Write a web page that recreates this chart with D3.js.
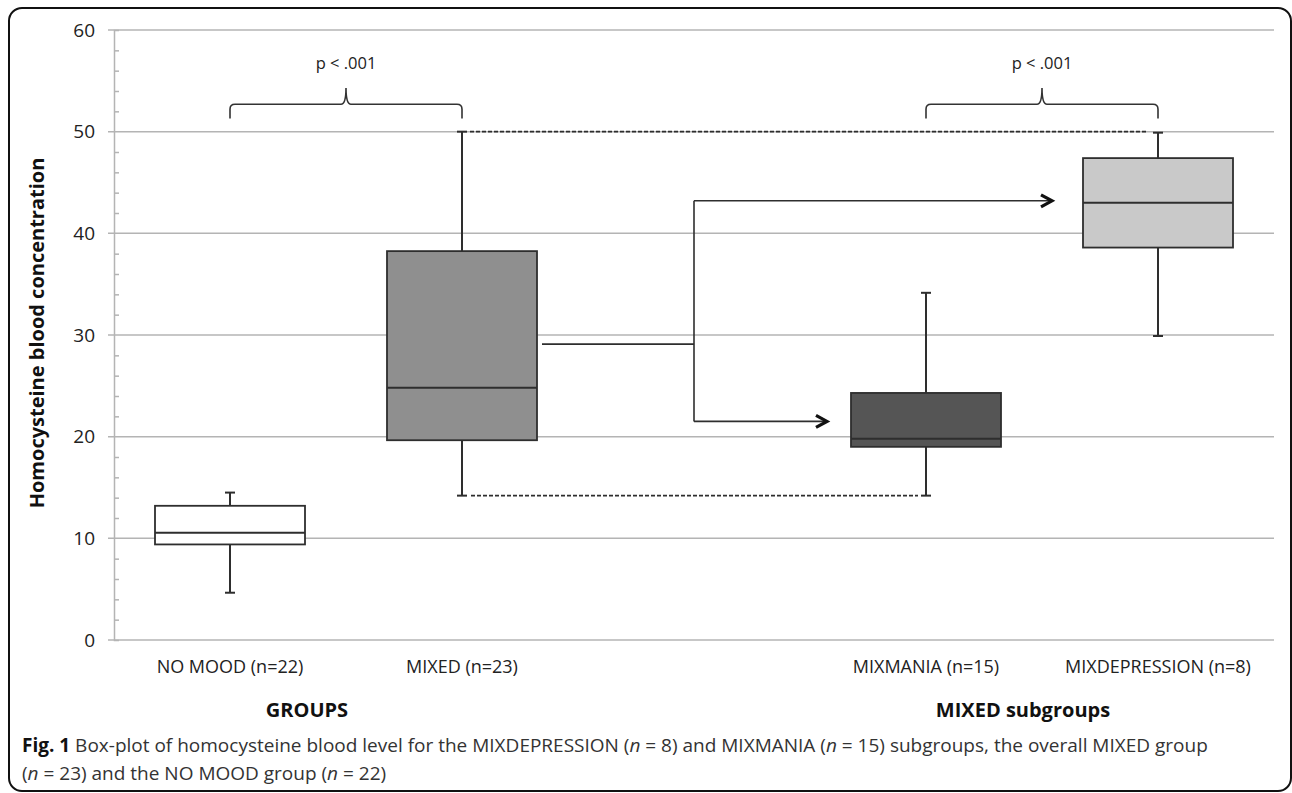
<!DOCTYPE html>
<html>
<head>
<meta charset="utf-8">
<script src="https://cdn.jsdelivr.net/npm/d3@7"></script>
<style>
  body { margin: 0; background: #fff; }
  text { font-family: "Open Sans", sans-serif; }
</style>
</head>
<body>
<div id="chart"></div>
<script>
(() => {
"use strict";

const WIDTH = 1292, HEIGHT = 793;

// slots on the x axis, the blank one keeps the gap between groups and subgroups
const categories = ["NO MOOD (n=22)", "MIXED (n=23)", "", "MIXMANIA (n=15)", "MIXDEPRESSION (n=8)"];
const boxCats = ["NO MOOD (n=22)", "MIXED (n=23)", "MIXMANIA (n=15)", "MIXDEPRESSION (n=8)"];
const lowWhisker = [4.65, 14.2, 14.2, 29.9];
const q1 = [9.4, 19.65, 19.0, 38.6];
const median = [10.55, 24.8, 19.8, 43.0];
const q3 = [13.2, 38.25, 24.3, 47.4];
const highWhisker = [14.5, 50.0, 34.15, 49.9];
const fills = ["#ffffff", "#8f8f8f", "#555555", "#c9c9c9"];

const yTicks = [0, 10, 20, 30, 40, 50, 60];
const groupLabels = ["GROUPS", "MIXED subgroups"];

// annotation levels (data units)
const splitLevel = 29.1;
const arrowLevels = [43.2, 21.5];
const braceLevels = { end: 51.3, bar: 52.7, peak: 54.3, text: 56.7 };

let svg = d3.select("#chart").append("svg")
  .attr("width", WIDTH)
  .attr("height", HEIGHT);

// frame
svg.append("rect")
  .attr("x", 9).attr("y", 8)
  .attr("width", 1282).attr("height", 783)
  .attr("rx", 13)
  .attr("fill", "none")
  .attr("stroke", "#111")
  .attr("stroke-width", 2);

let x = d3.scaleBand()
  .domain(categories)
  .range([114, 1274]);
let y = d3.scaleLinear()
  .domain([0, 60])
  .range([640, 30]);
let cx = c => x(c) + x.bandwidth() / 2;

// grid lines
svg.append("g")
  .selectAll("line")
  .data(yTicks)
  .join("line")
  .attr("x1", 108).attr("x2", 1274)
  .attr("y1", d => y(d)).attr("y2", d => y(d))
  .attr("stroke", "#b4b4b4")
  .attr("stroke-width", 1.5);

// y axis with minor ticks
let yAxis = d3.axisRight(y)
  .tickValues(d3.range(0, 61, 2).filter(d => d % 10 !== 0))
  .tickSize(5)
  .tickFormat("");
let axG = svg.append("g")
  .attr("transform", "translate(114,0)")
  .call(yAxis);
axG.select(".domain").attr("stroke", "#b4b4b4").attr("stroke-width", 1.5);
axG.selectAll(".tick line").attr("stroke", "#b4b4b4").attr("stroke-width", 1.5);

svg.append("g")
  .selectAll("text")
  .data(yTicks)
  .join("text")
  .attr("x", 95)
  .attr("y", d => y(d))
  .attr("dy", "0.35em")
  .attr("text-anchor", "end")
  .attr("font-size", 19)
  .attr("fill", "#222")
  .text(d => d);

svg.append("text")
  .attr("transform", `translate(44,333) rotate(-90)`)
  .attr("text-anchor", "middle")
  .attr("font-size", 20)
  .attr("font-weight", "bold")
  .attr("fill", "#111")
  .text("Homocysteine blood concentration");

// category labels
svg.append("g")
  .selectAll("text")
  .data(categories.filter(c => c !== ""))
  .join("text")
  .attr("x", d => cx(d))
  .attr("y", 673)
  .attr("text-anchor", "middle")
  .attr("font-size", 18)
  .attr("fill", "#222")
  .text(d => d);

svg.append("g")
  .selectAll("text")
  .data(groupLabels)
  .join("text")
  .attr("x", (d, i) => i === 0 ? 307 : 1023)
  .attr("y", 717)
  .attr("text-anchor", "middle")
  .attr("font-size", 20)
  .attr("font-weight", "bold")
  .attr("fill", "#111")
  .text(d => d);

// dashed reference lines
const ink = "#2e2e2e";
let dashed = [
  { v: highWhisker[1], from: cx(boxCats[1]) + 8, to: cx(boxCats[3]) - 12 },
  { v: lowWhisker[1], from: cx(boxCats[1]) + 9, to: cx(boxCats[2]) - 8 }
];
svg.append("g")
  .selectAll("line")
  .data(dashed)
  .join("line")
  .attr("x1", d => d.from).attr("x2", d => d.to)
  .attr("y1", d => y(d.v)).attr("y2", d => y(d.v))
  .attr("stroke", ink)
  .attr("stroke-width", 1.6)
  .attr("stroke-dasharray", "4,2");

// boxes
const boxW = 150, capW = 10;
let boxes = svg.append("g")
  .selectAll("g")
  .data(boxCats)
  .join("g");

boxes.append("line")
  .attr("x1", d => cx(d)).attr("x2", d => cx(d))
  .attr("y1", (d, i) => y(highWhisker[i])).attr("y2", (d, i) => y(lowWhisker[i]))
  .attr("stroke", ink).attr("stroke-width", 2);
boxes.selectAll(".cap")
  .data((d, i) => [{ c: d, v: highWhisker[i] }, { c: d, v: lowWhisker[i] }])
  .join("line")
  .attr("class", "cap")
  .attr("x1", d => cx(d.c) - capW / 2).attr("x2", d => cx(d.c) + capW / 2)
  .attr("y1", d => y(d.v)).attr("y2", d => y(d.v))
  .attr("stroke", ink).attr("stroke-width", 2);
boxes.append("rect")
  .attr("x", d => cx(d) - boxW / 2)
  .attr("y", (d, i) => y(q3[i]))
  .attr("width", boxW)
  .attr("height", (d, i) => y(q1[i]) - y(q3[i]))
  .attr("fill", (d, i) => fills[i])
  .attr("stroke", ink).attr("stroke-width", 1.8);
boxes.append("line")
  .attr("x1", d => cx(d) - boxW / 2).attr("x2", d => cx(d) + boxW / 2)
  .attr("y1", (d, i) => y(median[i])).attr("y2", (d, i) => y(median[i]))
  .attr("stroke", ink).attr("stroke-width", 2);

// split connector from MIXED to the two subgroups
let midX = cx("");
let conn = svg.append("g")
  .attr("fill", "none")
  .attr("stroke", ink)
  .attr("stroke-width", 1.6);
conn.append("path")
  .attr("d", d3.line()([
    [cx(boxCats[1]) + boxW / 2 + 5, y(splitLevel)],
    [midX, y(splitLevel)]
  ]));
conn.append("path")
  .attr("d", d3.line()([[midX, y(arrowLevels[0])], [midX, y(arrowLevels[1])]]));

let arrowEnds = [cx(boxCats[3]) - boxW / 2 - 31, cx(boxCats[2]) - boxW / 2 - 24];
arrowLevels.forEach((v, i) => {
  let ex = arrowEnds[i], ey = y(v);
  conn.append("path").attr("d", d3.line()([[midX, ey], [ex, ey]]));
  conn.append("path")
    .attr("stroke", "#111")
    .attr("stroke-width", 3.2)
    .attr("stroke-linejoin", "miter")
    .attr("d", d3.line()([[ex - 11, ey - 6], [ex, ey], [ex - 11, ey + 6]]));
});

// significance braces
let brace = (x1, x2) => {
  let m = (x1 + x2) / 2, r = 5;
  let yb = y(braceLevels.bar), ye = y(braceLevels.end), yp = y(braceLevels.peak);
  let p = d3.path();
  p.moveTo(x1, ye);
  p.lineTo(x1, yb + r);
  p.quadraticCurveTo(x1, yb, x1 + r, yb);
  p.lineTo(m - r, yb);
  p.quadraticCurveTo(m, yb, m, yp);
  p.quadraticCurveTo(m, yb, m + r, yb);
  p.lineTo(x2 - r, yb);
  p.quadraticCurveTo(x2, yb, x2, yb + r);
  p.lineTo(x2, ye);
  return p.toString();
};
let pairs = [[boxCats[0], boxCats[1]], [boxCats[2], boxCats[3]]];
svg.append("g")
  .selectAll("path")
  .data(pairs)
  .join("path")
  .attr("d", d => brace(cx(d[0]), cx(d[1])))
  .attr("fill", "none")
  .attr("stroke", "#333")
  .attr("stroke-width", 1.6);
svg.append("g")
  .selectAll("text")
  .data(pairs)
  .join("text")
  .attr("x", d => (cx(d[0]) + cx(d[1])) / 2)
  .attr("y", y(braceLevels.text))
  .attr("dy", "0.35em")
  .attr("text-anchor", "middle")
  .attr("font-size", 16.5)
  .attr("fill", "#222")
  .text("p < .001");

// caption
let cap = svg.append("text")
  .attr("x", 22)
  .attr("y", 752)
  .attr("font-size", 19)
  .attr("fill", "#333");
cap.append("tspan").attr("font-weight", "bold").attr("fill", "#111").text("Fig. 1");
cap.append("tspan").text(" Box-plot of homocysteine blood level for the MIXDEPRESSION (");
cap.append("tspan").attr("font-style", "italic").text("n");
cap.append("tspan").text(" = 8) and MIXMANIA (");
cap.append("tspan").attr("font-style", "italic").text("n");
cap.append("tspan").text(" = 15) subgroups, the overall MIXED group");

let cap2 = svg.append("text")
  .attr("x", 22)
  .attr("y", 780)
  .attr("font-size", 19)
  .attr("fill", "#333");
cap2.append("tspan").text("(");
cap2.append("tspan").attr("font-style", "italic").text("n");
cap2.append("tspan").text(" = 23) and the NO MOOD group (");
cap2.append("tspan").attr("font-style", "italic").text("n");
cap2.append("tspan").text(" = 22)");
})();
</script>
</body>
</html>
